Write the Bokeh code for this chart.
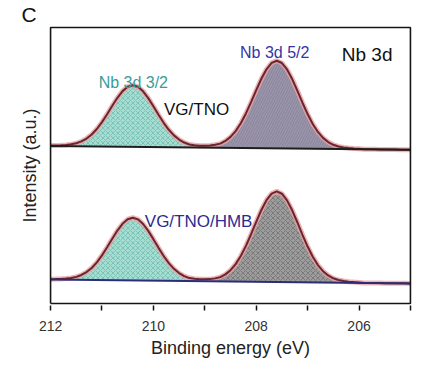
import numpy as np
from bokeh.plotting import figure
from bokeh.models import Range1d, Label, Title, FixedTicker, CustomJSTickFormatter
from bokeh.embed import file_html
from bokeh.resources import INLINE

# Binding-energy grid (eV) and normalised peak profile
energy = np.round(np.arange(212.0, 204.95, -0.1), 1)
offsets = np.round(np.arange(-1.6, 1.65, 0.1), 1)
peak_shape = [0.005, 0.008, 0.012, 0.018, 0.029, 0.047, 0.078, 0.125, 0.192,
              0.282, 0.395, 0.524, 0.662, 0.793, 0.902, 0.975, 1.0, 0.975,
              0.902, 0.793, 0.662, 0.524, 0.395, 0.282, 0.192, 0.125, 0.078,
              0.047, 0.029, 0.018, 0.012, 0.008, 0.005]

peak_names = ["Nb 3d 3/2", "Nb 3d 5/2"]
peak_centers = [210.4, 207.6]
heights_tno = [2.23, 3.17]
heights_hmb = [2.27, 3.28]

bg_energy = [212.0, 205.0]
bg_tno = [5.71, 5.57]
bg_hmb = [0.87, 0.73]

x_limits = [212, 205]
y_limits = [0, 10]
xticks = [212, 211, 210, 209, 208, 207, 206, 205]

FONT = "Liberation Sans"

# small padding so that the drawn box sits fully inside the frame
pad_x, pad_y = 0.04, 0.07
p = figure(width=419, height=360, output_backend="svg", toolbar_location=None,
           x_range=Range1d(x_limits[0] + pad_x, x_limits[1] - pad_x),
           y_range=Range1d(y_limits[0] - pad_y, y_limits[1] + pad_y),
           min_border_left=48, min_border_right=7, min_border_top=18,
           min_border_bottom=51)
p.xgrid.visible = False
p.ygrid.visible = False
p.yaxis.visible = False
p.outline_line_color = None
p.background_fill_color = "white"
p.border_fill_color = "white"

xa = p.below[0]
xa.ticker = FixedTicker(ticks=xticks)
xa.formatter = CustomJSTickFormatter(code="return (Math.round(tick) % 2 == 0) ? Math.round(tick).toString() : '';")
xa.minor_tick_line_color = None
xa.major_tick_in = 0
xa.major_tick_out = 5
xa.major_tick_line_width = 1.5
xa.axis_line_color = None
xa.major_tick_line_color = "#111111"
xa.major_label_text_font = FONT
xa.major_label_text_font_size = "14px"
xa.major_label_text_color = "#333333"
xa.major_label_standoff = 10
xa.axis_label = "Binding energy (eV)"
xa.axis_label_text_font = FONT
xa.axis_label_text_font_size = "18px"
xa.axis_label_text_font_style = "normal"
xa.axis_label_text_color = "#222222"
xa.axis_label_standoff = 4

rows = [
    (bg_tno, heights_tno, ["#a6dcd1", "#9b96ab"], ["#6fbfae", "#857f97"],
     ["x", "/"], "#1e1e1e"),
    (bg_hmb, heights_hmb, ["#a6dcd1", "#9c9c9c"], ["#6fbfae", "#727272"],
     ["x", "x"], "#2b2d78"),
]

for bg_vals, heights, fills, hatches, patterns, bg_col in rows:
    bg = np.interp(energy[::-1], bg_energy[::-1], bg_vals[::-1])[::-1]
    total = bg.copy()
    for c, h, fc, hc, hp in zip(peak_centers, heights, fills, hatches, patterns):
        comp = np.interp(energy[::-1], c + offsets, peak_shape, left=0, right=0)[::-1] * h
        mask = comp > 0
        p.varea(x=energy[mask], y1=bg[mask], y2=(bg + comp)[mask],
                fill_color=fc, hatch_pattern=hp, hatch_color=hc,
                hatch_scale=5, hatch_weight=0.8)
        total = total + comp
    p.line(energy, total, line_color="#eaa3a3", line_width=5, line_alpha=0.8)
    p.line(energy, total, line_color="#6a2530", line_width=2)
    p.line(bg_energy, bg_vals, line_color=bg_col, line_width=2)

# frame box along the axis limits
box_x = [x_limits[0], x_limits[1], x_limits[1], x_limits[0], x_limits[0]]
box_y = [y_limits[0], y_limits[0], y_limits[1], y_limits[1], y_limits[0]]
p.line(box_x, box_y, line_color="#151515", line_width=1.6)

# Text annotations inside the frame
def add_text(x, y, txt, color, size, align="center"):
    p.add_layout(Label(x=x, y=y, text=txt, text_color=color, text_font=FONT,
                       text_font_size=size, text_align=align,
                       text_baseline="alphabetic"))

add_text(210.39, 8.01, peak_names[0], "#3a9c98", "16px")
add_text(207.64, 9.09, peak_names[1], "#3535a8", "16px")
add_text(205.35, 9.02, "Nb 3d", "#111111", "19px", align="right")
add_text(209.16, 7.04, "VG/TNO", "#111111", "17px")
add_text(209.12, 2.96, "VG/TNO/HMB", "#2b2d90", "17px")

# Texts outside the frame as titles
p.add_layout(Title(text="Intensity (a.u.)", text_font=FONT, text_font_size="18px",
                   text_font_style="normal", text_color="#222222",
                   align="center", offset=14, standoff=18), "left")
p.add_layout(Title(text="C", text_font=FONT, text_font_size="21px",
                   text_font_style="normal", text_color="#111111",
                   align="left", offset=-27, standoff=0), "above")

open("out.html", "w").write(file_html(p, INLINE))
